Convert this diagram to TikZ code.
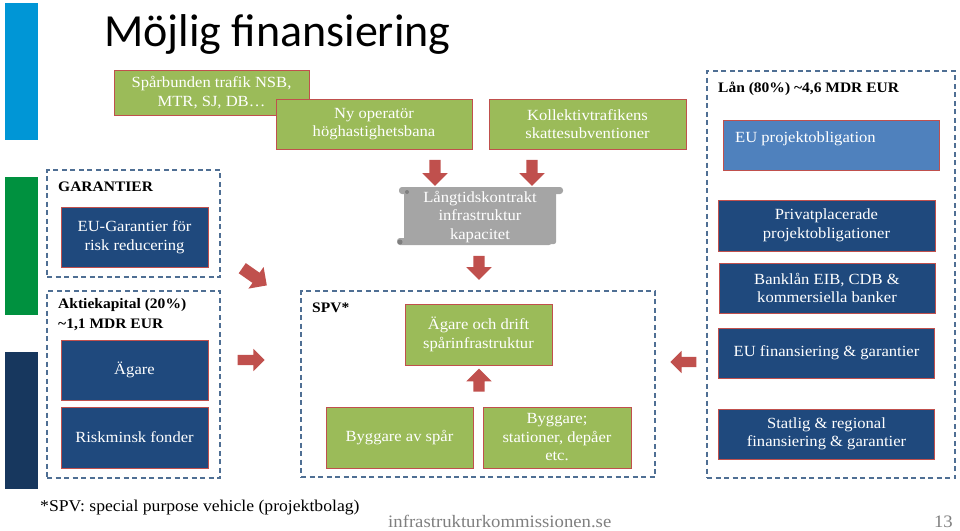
\documentclass[tikz,border=0pt]{standalone}
\usepackage{fontspec}
\setmainfont{Liberation Serif}[FakeStretch=1.07]
\newfontfamily\titlefont{Carlito}
\usepackage{tikz}
\usetikzlibrary{shapes.arrows}
\definecolor{barblue}{HTML}{0096D6}
\definecolor{bargreen}{HTML}{00913F}
\definecolor{bardark}{HTML}{17375E}
\definecolor{boxgreen}{HTML}{9BBB59}
\definecolor{boxedge}{HTML}{C0504D}
\definecolor{boxblue}{HTML}{1F497D}
\definecolor{boxlight}{HTML}{4F81BD}
\definecolor{arrowred}{HTML}{C0504D}
\definecolor{dashcol}{HTML}{4F6F94}
\definecolor{scrollgray}{HTML}{A5A5A5}
\definecolor{curlgray}{HTML}{7F7F7F}
\definecolor{footgray}{HTML}{7F7F7F}
\tikzset{
  grbox/.style={rectangle, draw=boxedge, fill=boxgreen, line width=1pt,
                text=white, align=center, inner sep=1pt,
                font=\fontsize{15.5}{18.5}\selectfont},
  dbbox/.style={grbox, fill=boxblue},
  lbbox/.style={grbox, fill=boxlight},
  scrollbox/.style={rectangle, fill=scrollgray, rounded corners=2pt,
                text=white, align=center, inner sep=0pt,
                font=\fontsize{15.5}{18.5}\selectfont},
  grp/.style={rectangle, draw=dashcol, line width=1.1pt,
              dash pattern=on 5pt off 3.5pt},
  grplab/.style={anchor=base west, inner sep=0pt,
                 font=\bfseries\fontsize{14.5}{17}\selectfont},
  fatarrow/.style={single arrow, fill=arrowred, inner xsep=0pt, inner ysep=5.5pt,
                   minimum height=26pt,
                   single arrow head extend=7pt, single arrow head indent=0pt}
}
\begin{document}
\begin{tikzpicture}[x=1pt,y=-1pt]
  \useasboundingbox (0,0) rectangle (960,530);
  \fill[barblue] (5,3) rectangle (38,140);
  \fill[bargreen] (5,177) rectangle (38,315);
  \fill[bardark] (5,352) rectangle (38,489);
  \node[anchor=base west, inner sep=0pt,
        font=\titlefont\fontsize{46}{50}\selectfont] (title) at (104,46) {Möjlig finansiering};

  \node[grbox, minimum width=195pt, minimum height=45pt] (spar) at (211.5,92.5) {Spårbunden trafik NSB,\\MTR, SJ, DB…};
  \node[grbox, minimum width=196pt, minimum height=50pt] (nyop) at (374,124) {Ny operatör\\höghastighetsbana};
  \node[grbox, minimum width=197pt, minimum height=50pt] (koll) at (587.5,124) {Kollektivtrafikens\\skattesubventioner};
  \node[fatarrow, rotate=-90] (pil1) at (435,170) {};
  \node[fatarrow, rotate=-90] (pil2) at (532,170) {};

  \fill[scrollgray, rounded corners=3pt] (399,187) rectangle (563,194);
  \fill[scrollgray, rounded corners=3pt] (397,238) rectangle (552,245);
  \node[scrollbox, minimum width=152pt, minimum height=54pt] (langt) at (480,217) {Långtidskontrakt\\infrastruktur\\kapacitet};
  \fill[curlgray] (407,192) circle (2pt);
  \fill[curlgray] (400,242) circle (2.5pt);
  \node[fatarrow, rotate=-90, minimum height=24pt] (pil3) at (479,265) {};

  \node[grp, minimum width=354pt, minimum height=186pt] (spvbox) at (478,384) {};
  \node[grplab] (spvlab) at (312,312) {SPV*};
  \node[grbox, minimum width=147pt, minimum height=61pt] (drift) at (478.5,334.5) {Ägare och drift\\spårinfrastruktur};
  \node[fatarrow, rotate=90, minimum height=23pt] (pil4) at (479,383) {};
  \node[grbox, minimum width=147pt, minimum height=61pt] (bygg) at (399.5,437.5) {Byggare av spår};
  \node[grbox, minimum width=148pt, minimum height=61pt] (stat) at (557,437.5) {Byggare;\\stationer, depåer\\etc.};

  \node[grp, minimum width=173pt, minimum height=107pt] (garbox) at (133.5,223.5) {};
  \node[grplab] (garlab) at (58,191) {GARANTIER};
  \node[dbbox, minimum width=147pt, minimum height=60pt] (eugar) at (134.5,237) {EU-Garantier för\\risk reducering};
  \node[grp, minimum width=173pt, minimum height=187pt] (aktbox) at (133.5,384.5) {};
  \node[grplab] (aktlab) at (58,308) {Aktiekapital (20\%)};
  \node[grplab] (mdrlab) at (58,328) {\textasciitilde1,1 MDR EUR};
  \node[dbbox, minimum width=147pt, minimum height=60pt] (agare) at (134.5,370) {Ägare};
  \node[dbbox, minimum width=147pt, minimum height=61pt] (riskf) at (134.5,437.5) {Riskminsk fonder};
  \node[fatarrow, rotate=-35, minimum height=30pt, inner ysep=6pt] (pil5) at (252,275) {};
  \node[fatarrow, minimum height=27pt, inner ysep=5pt, single arrow head extend=6pt] (pil6) at (248.5,360) {};

  \node[grp, minimum width=248pt, minimum height=407pt] (lanbox) at (831,274.5) {};
  \node[grplab] (lanlab) at (718,92) {Lån (80\%) \textasciitilde4,6 MDR EUR};
  \node[lbbox, minimum width=216pt, minimum height=50pt] (euproj) at (831,145) {};
  \node[anchor=base west, inner sep=0pt, text=white,
        font=\fontsize{15.5}{18.5}\selectfont] (euprojtxt) at (735,142) {EU projektobligation};
  \node[dbbox, minimum width=217pt, minimum height=51pt] (privat) at (826.5,225.5) {Privatplacerade\\projektobligationer};
  \node[dbbox, minimum width=216pt, minimum height=50pt] (bank) at (827,288) {Banklån EIB, CDB \&\\kommersiella banker};
  \node[dbbox, minimum width=216pt, minimum height=50pt] (eufin) at (826.5,353) {EU finansiering \& garantier};
  \node[dbbox, minimum width=216pt, minimum height=50pt] (statl) at (826.5,434) {Statlig \& regional\\finansiering \& garantier};
  \node[fatarrow, rotate=180, minimum height=26pt, inner ysep=5pt, single arrow head extend=6pt] (pil7) at (686,362) {};

  \node[anchor=base west, inner sep=0pt, font=\fontsize{16.5}{20}\selectfont] (fotnot) at (40,511) {*SPV: special purpose vehicle (projektbolag)};
  \node[anchor=base west, inner sep=0pt, text=footgray,
        font=\fontsize{17.5}{20}\selectfont] (webb) at (388,527) {infrastrukturkommissionen.se};
  \node[anchor=base east, inner sep=0pt, text=footgray,
        font=\fontsize{17.5}{20}\selectfont] (sida) at (953,527) {13};
\end{tikzpicture}
\end{document}
